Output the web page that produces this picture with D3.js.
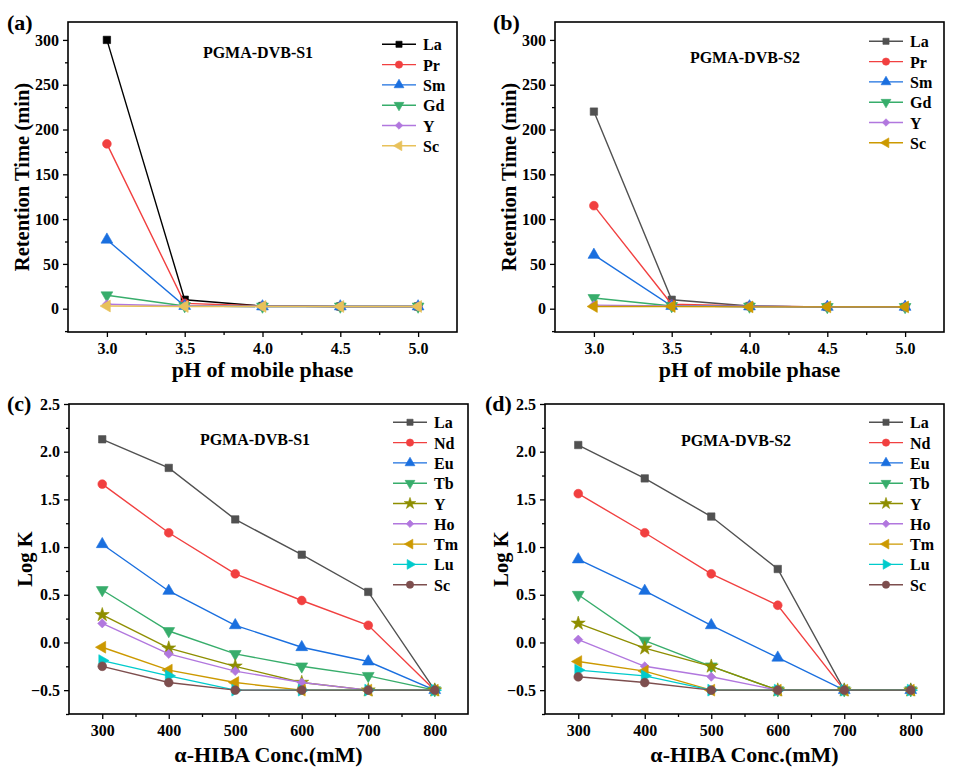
<!DOCTYPE html>
<html>
<head>
<meta charset="utf-8">
<script src="https://cdn.jsdelivr.net/npm/d3@7"></script>
<style>
  body { margin: 0; background: #fff; }
  svg text { font-family: "Liberation Serif", "Times New Roman", serif; font-weight: bold; fill: #000; }
</style>
</head>
<body>
<div id="chart"></div>
<script>
// ---- data ----
const phLevels = [3.0, 3.5, 4.0, 4.5, 5.0];
const phElements = ["La", "Pr", "Sm", "Gd", "Y", "Sc"];
const retentionS1 = [
  [300, 10, 3, 2.5, 2.5],
  [184, 6, 3, 2.5, 2.5],
  [77, 3, 2.5, 2.5, 2.5],
  [15, 3, 2.5, 2.5, 2.5],
  [5, 3, 2.5, 2.5, 2.5],
  [3, 2.5, 2.5, 2.5, 2.5]
];
const retentionS2 = [
  [220, 10, 3, 2, 2],
  [115, 5, 3, 2, 2],
  [60, 3, 2.5, 2, 2],
  [12, 3, 2.5, 2, 2],
  [4, 3, 2.5, 2, 2],
  [2.5, 2.5, 2, 2, 2]
];
const phColorsS1 = ["#000000", "#F14040", "#1A6FDF", "#37AD6B", "#B177DE", "#E8C15A"];
const phColorsS2 = ["#515151", "#F14040", "#1A6FDF", "#37AD6B", "#B177DE", "#CC9900"];
const phSymbols = ["square", "circle", "up", "down", "diamond", "left"];
const phTicks = [3.0, 3.5, 4.0, 4.5, 5.0];
const phMinorTicks = [3.25, 3.75, 4.25, 4.75];
const retentionTicks = [0, 50, 100, 150, 200, 250, 300];
const retentionMinorTicks = [-25, 25, 75, 125, 175, 225, 275];

const hibaConc = [300, 400, 500, 600, 700, 800];
const logKElements = ["La", "Nd", "Eu", "Tb", "Y", "Ho", "Tm", "Lu", "Sc"];
const logKS1 = [
  [2.13, 1.83, 1.29, 0.92, 0.53, -0.5],
  [1.66, 1.15, 0.72, 0.44, 0.18, -0.5],
  [1.03, 0.54, 0.18, -0.05, -0.2, -0.5],
  [0.55, 0.12, -0.12, -0.25, -0.35, -0.5],
  [0.29, -0.06, -0.25, -0.42, -0.5, -0.5],
  [0.2, -0.12, -0.3, -0.42, -0.5, -0.5],
  [-0.05, -0.29, -0.42, -0.5, -0.5, -0.5],
  [-0.19, -0.35, -0.5, -0.5, -0.5, -0.5],
  [-0.25, -0.42, -0.5, -0.5, -0.5, -0.5]
];
const logKS2 = [
  [2.07, 1.72, 1.32, 0.77, -0.5, -0.5],
  [1.56, 1.15, 0.72, 0.39, -0.5, -0.5],
  [0.87, 0.54, 0.18, -0.16, -0.5, -0.5],
  [0.5, 0.02, -0.25, -0.5, -0.5, -0.5],
  [0.2, -0.06, -0.25, -0.5, -0.5, -0.5],
  [0.03, -0.25, -0.36, -0.5, -0.5, -0.5],
  [-0.2, -0.3, -0.5, -0.5, -0.5, -0.5],
  [-0.29, -0.35, -0.5, -0.5, -0.5, -0.5],
  [-0.36, -0.42, -0.5, -0.5, -0.5, -0.5]
];
const logKColors = ["#515151", "#F14040", "#1A6FDF", "#37AD6B", "#8E8E00", "#B177DE", "#CC9900", "#00CBCC", "#7D4E4E"];
const logKSymbols = ["square", "circle", "up", "down", "star", "diamond", "left", "right", "circle"];
const hibaTicks = [300, 400, 500, 600, 700, 800];
const hibaMinorTicks = [350, 450, 550, 650, 750];
const logKTicks = [-0.5, 0.0, 0.5, 1.0, 1.5, 2.0, 2.5];
const logKMinorTicks = [-0.75, -0.25, 0.25, 0.75, 1.25, 1.75, 2.25];

// ---- page ----
const width = 960;
const height = 777;

const svg = d3
  .select("#chart")
  .append("svg")
  .attr("width", width)
  .attr("height", height);

// marker shapes, size is d3 symbol area
function markerPath(kind, size) {
  const types = {
    square: d3.symbolSquare,
    circle: d3.symbolCircle,
    up: d3.symbolTriangle,
    down: d3.symbolTriangle,
    left: d3.symbolTriangle,
    right: d3.symbolTriangle,
    star: d3.symbolStar,
    diamond: d3.symbolSquare
  };
  const scaleBy = { square: 1, circle: 1.1, up: 1.1, down: 1.1, left: 1.1, right: 1.1, star: 1.1, diamond: 0.75 };
  return d3.symbol().type(types[kind]).size(size * scaleBy[kind])();
}
function markerRotate(kind) {
  return { down: 180, left: -90, right: 90, diamond: 45 }[kind] || 0;
}

const panels = [
  {
    tag: "(a)", tagX: 7, tagY: 30,
    left: 68, top: 22, right: 457, bottom: 332,
    xDomain: [2.75, 5.25], yDomain: [-26, 320],
    xTicks: phTicks, xMinor: phMinorTicks, yTicks: retentionTicks, yMinor: retentionMinorTicks,
    xFormat: d3.format(".1f"), yFormat: d3.format("d"),
    xs: phLevels, names: phElements, values: retentionS1, colors: phColorsS1, symbols: phSymbols,
    xTitle: "pH of mobile phase", yTitle: "Retention Time (min)", xTitleY: 45, yTitleX: -39,
    inner: "PGMA-DVB-S1", innerX: 258, innerY: 58,
    legendY: 44.3
  },
  {
    tag: "(b)", tagX: 493, tagY: 30,
    left: 555, top: 22, right: 944, bottom: 332,
    xDomain: [2.75, 5.25], yDomain: [-26, 320],
    xTicks: phTicks, xMinor: phMinorTicks, yTicks: retentionTicks, yMinor: retentionMinorTicks,
    xFormat: d3.format(".1f"), yFormat: d3.format("d"),
    xs: phLevels, names: phElements, values: retentionS2, colors: phColorsS2, symbols: phSymbols,
    xTitle: "pH of mobile phase", yTitle: "Retention Time (min)", xTitleY: 45, yTitleX: -39,
    inner: "PGMA-DVB-S2", innerX: 745, innerY: 62.5,
    legendY: 41.3
  },
  {
    tag: "(c)", tagX: 7, tagY: 411,
    left: 69, top: 404, right: 468, bottom: 714,
    xDomain: [250, 850], yDomain: [-0.75, 2.5],
    xTicks: hibaTicks, xMinor: hibaMinorTicks, yTicks: logKTicks, yMinor: logKMinorTicks,
    xFormat: d3.format("d"), yFormat: d3.format(".1f"),
    xs: hibaConc, names: logKElements, values: logKS1, colors: logKColors, symbols: logKSymbols,
    xTitle: "α-HIBA Conc.(mM)", yTitle: "Log K", xTitleY: 48, yTitleX: -37,
    inner: "PGMA-DVB-S1", innerX: 255, innerY: 445,
    legendY: 422.3
  },
  {
    tag: "(d)", tagX: 485, tagY: 411,
    left: 545, top: 404, right: 944, bottom: 714,
    xDomain: [250, 850], yDomain: [-0.75, 2.5],
    xTicks: hibaTicks, xMinor: hibaMinorTicks, yTicks: logKTicks, yMinor: logKMinorTicks,
    xFormat: d3.format("d"), yFormat: d3.format(".1f"),
    xs: hibaConc, names: logKElements, values: logKS2, colors: logKColors, symbols: logKSymbols,
    xTitle: "α-HIBA Conc.(mM)", yTitle: "Log K", xTitleY: 48, yTitleX: -37,
    inner: "PGMA-DVB-S2", innerX: 736, innerY: 446,
    legendY: 422.3
  }
];

function drawPanel(p) {
  const x = d3.scaleLinear().domain(p.xDomain).range([p.left, p.right]);
  const y = d3.scaleLinear().domain(p.yDomain).range([p.bottom, p.top]);
  const g = svg.append("g");

  // minor ticks first, no labels
  g.append("g")
    .attr("transform", `translate(0,${p.bottom})`)
    .call(d3.axisBottom(x).tickValues(p.xMinor).tickSize(3).tickFormat(""))
    .call((a) => a.select(".domain").remove());
  g.append("g")
    .attr("transform", `translate(${p.left},0)`)
    .call(d3.axisLeft(y).tickValues(p.yMinor).tickSize(3).tickFormat(""))
    .call((a) => a.select(".domain").remove());

  // major ticks with labels
  const xAxis = g.append("g")
    .attr("transform", `translate(0,${p.bottom})`)
    .call(d3.axisBottom(x).tickValues(p.xTicks).tickSize(5).tickPadding(6).tickFormat(p.xFormat));
  const yAxis = g.append("g")
    .attr("transform", `translate(${p.left},0)`)
    .call(d3.axisLeft(y).tickValues(p.yTicks).tickSize(5).tickPadding(4).tickFormat(p.yFormat));
  [xAxis, yAxis].forEach((a) => {
    a.select(".domain").remove();
    a.selectAll("text")
      .style("font-family", '"Liberation Serif", "Times New Roman", serif')
      .style("font-weight", "bold")
      .style("font-size", "16px")
      .attr("fill", "#000");
  });
  g.selectAll(".tick line").attr("stroke", "#000").attr("stroke-width", 1.3);

  // series
  const line = d3.line().x((d) => x(d[0])).y((d) => y(d[1]));
  p.values.forEach((vals, i) => {
    const pts = vals.map((v, j) => [p.xs[j], v]);
    const color = p.colors[i];
    g.append("path")
      .datum(pts)
      .attr("d", line)
      .attr("fill", "none")
      .attr("stroke", color)
      .attr("stroke-width", 1.4);
    g.selectAll(null)
      .data(pts)
      .enter()
      .append("path")
      .attr("d", markerPath(p.symbols[i], 55))
      .attr("transform", (d) => `translate(${x(d[0])},${y(d[1])}) rotate(${markerRotate(p.symbols[i])})`)
      .attr("fill", color)
      .attr("stroke", color)
      .attr("stroke-width", 0.6);
  });

  // frame on top
  g.append("rect")
    .attr("x", p.left)
    .attr("y", p.top)
    .attr("width", p.right - p.left)
    .attr("height", p.bottom - p.top)
    .attr("fill", "none")
    .attr("stroke", "#000")
    .attr("stroke-width", 1.6);

  // legend
  const lineStart = p.right - 75;
  const lineEnd = p.right - 41;
  p.names.forEach((name, i) => {
    const ly = p.legendY + i * 20.3;
    g.append("line")
      .attr("x1", lineStart).attr("x2", lineEnd)
      .attr("y1", ly).attr("y2", ly)
      .attr("stroke", p.colors[i])
      .attr("stroke-width", 1.4);
    g.append("path")
      .attr("d", markerPath(p.symbols[i], 38))
      .attr("transform", `translate(${(lineStart + lineEnd) / 2},${ly}) rotate(${markerRotate(p.symbols[i])})`)
      .attr("fill", p.colors[i])
      .attr("stroke", p.colors[i])
      .attr("stroke-width", 0.6);
    g.append("text")
      .attr("x", p.right - 34)
      .attr("y", ly + 6)
      .style("font-size", "16px")
      .text(name);
  });

  // texts
  g.append("text")
    .attr("x", p.innerX)
    .attr("y", p.innerY)
    .attr("text-anchor", "middle")
    .style("font-size", "16px")
    .text(p.inner);

  g.append("text")
    .attr("x", (p.left + p.right) / 2)
    .attr("y", p.bottom + p.xTitleY)
    .attr("text-anchor", "middle")
    .style("font-size", "22px")
    .text(p.xTitle);

  g.append("text")
    .attr("transform", `translate(${p.left + p.yTitleX},${(p.top + p.bottom) / 2}) rotate(-90)`)
    .attr("text-anchor", "middle")
    .style("font-size", "20.5px")
    .text(p.yTitle);

  g.append("text")
    .attr("x", p.tagX)
    .attr("y", p.tagY)
    .style("font-size", "22px")
    .text(p.tag);
}

panels.forEach(drawPanel);
</script>
</body>
</html>
